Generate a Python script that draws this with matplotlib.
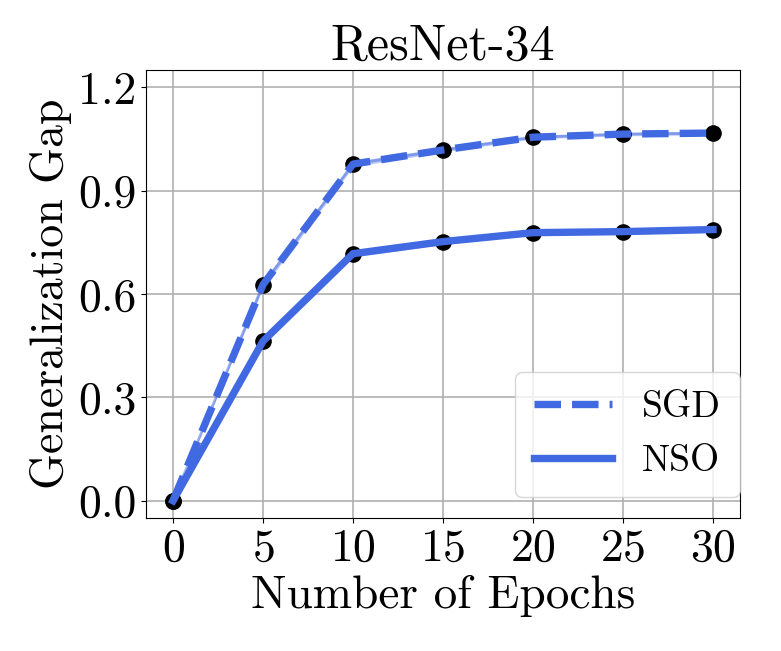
import numpy as np
import matplotlib.pyplot as plt

plt.rcParams["font.family"] = ["cmr10", "DejaVu Serif"]
plt.rcParams["mathtext.fontset"] = "cm"
plt.rcParams["axes.formatter.use_mathtext"] = True

epochs = [0, 5, 10, 15, 20, 25, 30]
sgd_gap = [0.0, 0.627, 0.977, 1.018, 1.055, 1.064, 1.067]
nso_gap = [0.0, 0.463, 0.717, 0.752, 0.778, 0.781, 0.787]
sgd_std = [0.0, 0.010, 0.008, 0.006, 0.005, 0.005, 0.005]
nso_std = [0.0, 0.008, 0.010, 0.008, 0.006, 0.005, 0.005]

color = "royalblue"

fig = plt.figure(figsize=(7.81, 6.51), dpi=100)
ax = fig.add_axes([146 / 781, 1 - 518 / 651, (740 - 146) / 781, (518 - 70) / 651])

x = np.array(epochs)
for vals, std in [(sgd_gap, sgd_std), (nso_gap, nso_std)]:
    v = np.array(vals)
    s = np.array(std)
    ax.fill_between(x, v - s, v + s, color=color, alpha=0.35, lw=0)
    ax.plot(x, v, color=color, alpha=0.5, lw=2)
    ax.scatter(x, v, color="black", s=120, zorder=3)

ax.plot(x, sgd_gap, color=color, lw=5.3, ls=(0, (3.6, 1.5)), label="SGD", zorder=4)
ax.plot(x, nso_gap, color=color, lw=5.3, label="NSO", zorder=4)

ax.set_xlim(-1.5, 31.5)
ax.set_ylim(-0.05, 1.25)
ax.set_xticks([0, 5, 10, 15, 20, 25, 30])
ax.set_yticks([0.0, 0.3, 0.6, 0.9, 1.2])
ax.set_yticklabels(["0.0", "0.3", "0.6", "0.9", "1.2"])
ax.tick_params(labelsize=33)
ax.grid(True, color="#b0b0b0", lw=1.2)
ax.set_axisbelow(True)

ax.set_xlabel("Number of Epochs", fontsize=34)
ax.set_ylabel("Generalization Gap", fontsize=33)
ax.set_title("ResNet-34", fontsize=36)

ax.legend(loc="lower right", bbox_to_anchor=(1.0, 0.047), borderaxespad=0,
          fontsize=27, handlelength=2.1, borderpad=0.5,
          labelspacing=0.55, framealpha=0.8)

fig.savefig("out.png", dpi=100)
